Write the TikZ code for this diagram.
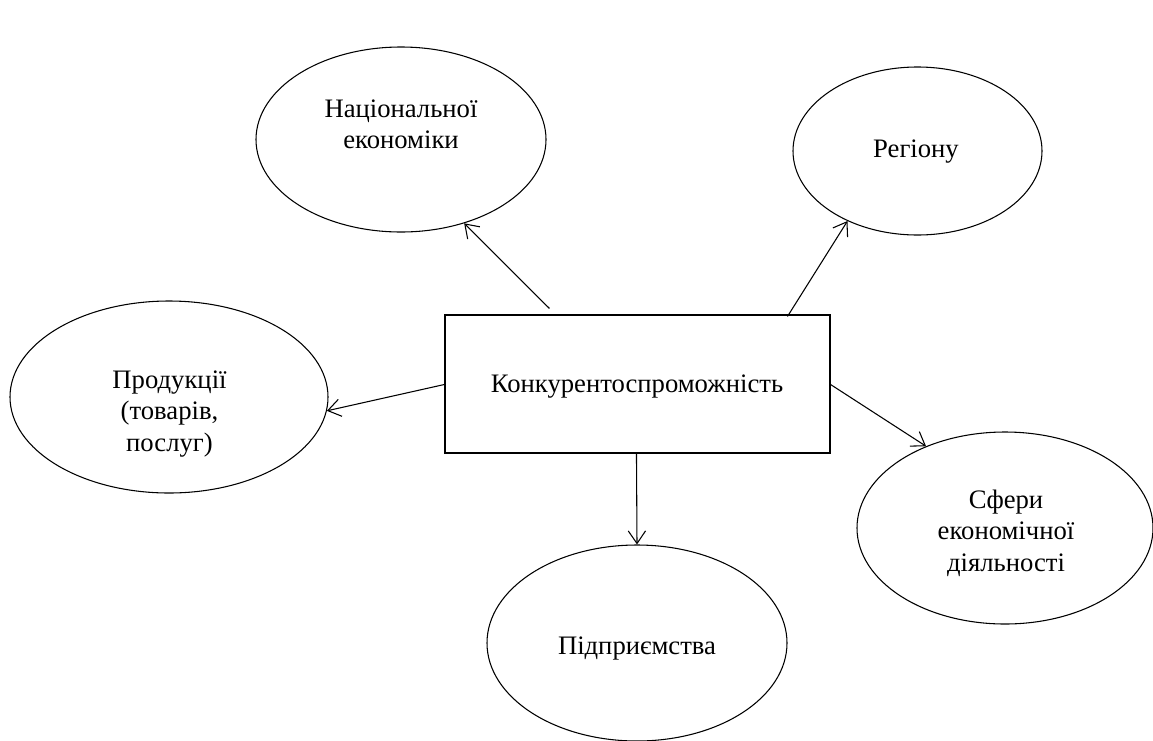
\documentclass[tikz,border=0pt]{standalone}
\usepackage{fontspec}
\setmainfont{Liberation Serif}
\usetikzlibrary{shapes.geometric,arrows.meta,calc}
\begin{document}
\begin{tikzpicture}[x=0.75pt,y=-0.75pt,
  oval/.style={draw, ellipse, line width=0.8pt, inner sep=0pt},
  txt/.style={align=center, font=\fontsize{20}{23.5}\selectfont, inner sep=0pt},
  mainbox/.style={draw, rectangle, line width=0.8pt, minimum width=288.75pt, minimum height=103.5pt, inner sep=0pt},
  conn/.style={line width=0.8pt, -{Straight Barb[length=9.5pt,width=13pt,line width=0.8pt]}}]
\useasboundingbox (0,0) rectangle (1153,740);
% ellipses
\node[oval, minimum width=217.5pt, minimum height=138.75pt] (nat) at (401,139.5) {};
\node[oval, minimum width=186.75pt, minimum height=126pt] (reg) at (917.5,151) {};
\node[oval, minimum width=238.5pt, minimum height=144pt] (prod) at (169,397) {};
\node[oval, minimum width=225pt, minimum height=147pt] (pid) at (637,643) {};
\node[oval, minimum width=222pt, minimum height=144pt] (sfer) at (1005,528) {};
\node[mainbox] (box) at (637.5,384) {};
% texts
\node[txt] (natT) at (401,124) {Національної\\економіки};
\node[txt] (regT) at (916,152) {Регіону};
\node[txt] (prodT) at (169.5,414) {Продукції\\(товарів,\\послуг)};
\node[txt] (pidT) at (637,648) {Підприємства};
\node[txt] (sferT) at (1006,533) {Сфери\\економічної\\діяльності};
\node[txt] (boxT) at (637,387) {Конкурентоспроможність};
% connector start points
\coordinate (s1) at ($(box.north west)+(105,-6)$);
\coordinate (s2) at ($(box.north west)+(343,2)$);
\coordinate (s3) at ($(box.north west)+(0,70)$);
\coordinate (s4) at ($(box.south west)+(192,0)$);
\coordinate (s5) at ($(box.north east)+(0,70)$);
% connectors
\draw[conn] (s1) -- (nat.-53.5);
\draw[conn] (s2) -- (reg.-135);
\draw[conn] (s3) -- (prod.-5);
\draw[conn] (s4) -- (pid.north);
\draw[conn] (s5) -- (sfer.134.6);
\end{tikzpicture}
\end{document}
